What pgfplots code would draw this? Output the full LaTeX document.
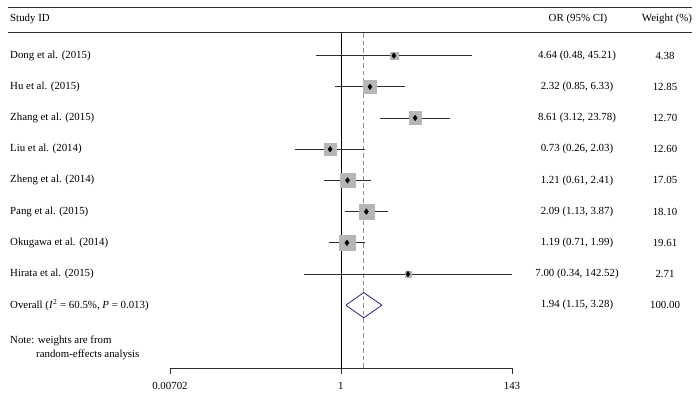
\documentclass[border=0pt]{standalone}
\usepackage{pgfplots}
\pgfplotsset{compat=1.18}
\usepackage{pgfplotstable}
\usepackage{fontspec}
\setmainfont{Liberation Serif}
\definecolor{boxgray}{RGB}{182,182,182}
\definecolor{dashcol}{RGB}{200,110,145}
\definecolor{diamcol}{RGB}{45,35,120}
\definecolor{linecol}{RGB}{45,45,45}
\pgfplotstableread{
or   y     ms
4.64 312.4 3.9
2.32 281.2 6.4
8.61 250.0 6.4
0.73 218.8 6.3
1.21 187.6 7.3
2.09 156.4 7.6
1.19 125.2 7.9
7.00 94.0  3.1
}\studies
\begin{document}
\begin{tikzpicture}[font=\fontsize{10.9}{13}\selectfont]
\useasboundingbox (-170bp,-33bp) rectangle (529bp,368bp);
\begin{axis}[
  at={(0bp,0bp)}, anchor=south west,
  scale only axis, width=342bp, height=361bp,
  xmode=log, xmin=0.00702, xmax=143, ymin=0, ymax=361,
  axis x line*=bottom, axis y line=none,
  x axis line style={-, linecol, line width=0.8pt},
  xtick={0.00702,1,143}, xticklabels={0.00702,1,143}, minor xtick={},
  tick align=outside, major tick length=6bp,
  every tick/.style={linecol, line width=0.8pt},
  xticklabel style={font=\fontsize{10.9}{13}\selectfont, yshift=-5bp},
  clip=false,
]
% vertical no-effect line and overall dashed line
\addplot[black, line width=0.8pt] coordinates {(1,0) (1,336)};
\addplot[dashcol, line width=0.8pt, dash pattern=on 4.5bp off 3bp] coordinates {(1.94,0) (1.94,336)};
% weight boxes
\addplot[scatter, only marks, mark=square*,
  scatter/use mapped color={draw=boxgray, fill=boxgray},
  visualization depends on={\thisrow{ms}\as\perpointms},
  scatter/@pre marker code/.append style={/tikz/mark size=\perpointms}]
  table[x=or, y=y] {\studies};
% confidence intervals
\addplot[linecol, line width=0.8pt] coordinates {(0.48,312.4) (45.21,312.4)};
\addplot[linecol, line width=0.8pt] coordinates {(0.85,281.2) (6.33,281.2)};
\addplot[linecol, line width=0.8pt] coordinates {(3.12,250.0) (23.78,250.0)};
\addplot[linecol, line width=0.8pt] coordinates {(0.26,218.8) (2.03,218.8)};
\addplot[linecol, line width=0.8pt] coordinates {(0.61,187.6) (2.41,187.6)};
\addplot[linecol, line width=0.8pt] coordinates {(1.13,156.4) (3.87,156.4)};
\addplot[linecol, line width=0.8pt] coordinates {(0.71,125.2) (1.99,125.2)};
\addplot[linecol, line width=0.8pt] coordinates {(0.34,94.0) (142.52,94.0)};
% point estimates
\addplot[only marks, mark=diamond*, mark size=2.8, black] table[x=or, y=y] {\studies};
% overall diamond
\addplot[diamcol, line width=0.8pt, line join=miter] coordinates {(1.15,62.8) (1.94,75.4) (3.28,62.8) (1.94,50.2) (1.15,62.8)};
\end{axis}
% header rules
\draw[linecol, line width=0.8pt] (-162bp,361bp) -- (522bp,361bp);
\draw[linecol, line width=0.8pt] (-162bp,336bp) -- (522bp,336bp);
% headers
\node[anchor=west, inner sep=0pt] at (-160bp,349bp) {Study ID};
\node[inner sep=0pt] at (408bp,349bp) {OR (95\% CI)};
\node[inner sep=0pt] at (497bp,349bp) {Weight (\%)};
% study labels
\node[anchor=west, inner sep=0pt] at (-160bp,312.4bp) {Dong et al. (2015)};
\node[anchor=west, inner sep=0pt] at (-160bp,281.2bp) {Hu et al. (2015)};
\node[anchor=west, inner sep=0pt] at (-160bp,250.0bp) {Zhang et al. (2015)};
\node[anchor=west, inner sep=0pt] at (-160bp,218.8bp) {Liu et al. (2014)};
\node[anchor=west, inner sep=0pt] at (-160bp,187.6bp) {Zheng et al. (2014)};
\node[anchor=west, inner sep=0pt] at (-160bp,156.4bp) {Pang et al. (2015)};
\node[anchor=west, inner sep=0pt] at (-160bp,125.2bp) {Okugawa et al. (2014)};
\node[anchor=west, inner sep=0pt] at (-160bp,94.0bp) {Hirata et al. (2015)};
\node[anchor=west, inner sep=0pt] at (-160bp,62.8bp) {Overall (\textit{I}\textsuperscript{2} = 60.5\%, \textit{P} = 0.013)};
\node[anchor=west, inner sep=0pt] at (-160bp,27.5bp) {Note: weights are from};
\node[anchor=west, inner sep=0pt] at (-134bp,13bp) {random-effects analysis};
% OR column
\node[inner sep=0pt] at (407bp,312.4bp) {4.64 (0.48, 45.21)};
\node[inner sep=0pt] at (407bp,281.2bp) {2.32 (0.85, 6.33)};
\node[inner sep=0pt] at (407bp,250.0bp) {8.61 (3.12, 23.78)};
\node[inner sep=0pt] at (407bp,218.8bp) {0.73 (0.26, 2.03)};
\node[inner sep=0pt] at (407bp,187.6bp) {1.21 (0.61, 2.41)};
\node[inner sep=0pt] at (407bp,156.4bp) {2.09 (1.13, 3.87)};
\node[inner sep=0pt] at (407bp,125.2bp) {1.19 (0.71, 1.99)};
\node[inner sep=0pt] at (407bp,94.0bp) {7.00 (0.34, 142.52)};
\node[inner sep=0pt] at (407bp,62.8bp) {1.94 (1.15, 3.28)};
% weight column
\node[inner sep=0pt] at (495bp,312.4bp) {4.38};
\node[inner sep=0pt] at (495bp,281.2bp) {12.85};
\node[inner sep=0pt] at (495bp,250.0bp) {12.70};
\node[inner sep=0pt] at (495bp,218.8bp) {12.60};
\node[inner sep=0pt] at (495bp,187.6bp) {17.05};
\node[inner sep=0pt] at (495bp,156.4bp) {18.10};
\node[inner sep=0pt] at (495bp,125.2bp) {19.61};
\node[inner sep=0pt] at (495bp,94.0bp) {2.71};
\node[inner sep=0pt] at (495bp,62.8bp) {100.00};
\end{tikzpicture}
\end{document}
